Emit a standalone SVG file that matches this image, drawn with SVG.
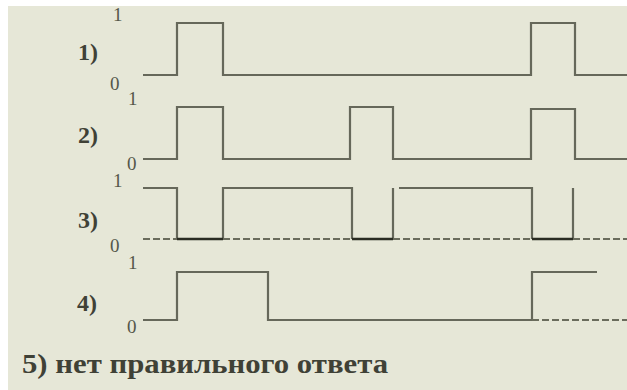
<svg xmlns="http://www.w3.org/2000/svg" width="627" height="390" viewBox="0 0 627 390">
<style>
.sig{fill:none;stroke:#66685a;stroke-width:2.2}
.dash{fill:none;stroke:#6a6c5c;stroke-width:2.2;stroke-dasharray:7 3}
.low{fill:none;stroke:#2a2c22;stroke-width:2.6}
.lbl{font-family:"Liberation Serif","Times New Roman",serif;font-weight:bold;fill:#3f4136}
.num{font-family:"Liberation Serif","Times New Roman",serif;font-size:19px;fill:#55574a}
</style>
<rect x="0" y="0" width="627" height="390" fill="#ffffff"/>
<rect x="8" y="6" width="619" height="384" fill="#e6e7d7"/>
<g id="wave1">
<path class="sig" d="M143 75H177V23H223V75H531V23H575V75H627"/>
<text class="num" x="113" y="21">1</text>
<text class="lbl" x="78" y="60" font-size="24">1)</text>
<text class="num" x="110" y="90">0</text>
</g>
<g id="wave2">
<path class="sig" d="M143 159H177V107H223V159H350V107H393V159H531V109H575V159H627"/>
<text class="num" x="128" y="105">1</text>
<text class="lbl" x="78" y="143" font-size="24">2)</text>
<text class="num" x="127" y="170">0</text>
</g>
<g id="wave3">
<path class="dash" d="M143 239H627"/>
<path class="sig" d="M143 188H177V239M223 239V188H352V239M393 239V188M399 188H532V239M573 239V188"/>
<path class="low" d="M177 239H223M352 239H393M532 239H573"/>
<text class="num" x="113" y="187">1</text>
<text class="lbl" x="78" y="228" font-size="24">3)</text>
<text class="num" x="110" y="252">0</text>
</g>
<g id="wave4">
<path class="sig" d="M143 320H177V272H268V320H532V272H597"/>
<path class="dash" d="M532 320H627"/>
<text class="num" x="128" y="269">1</text>
<text class="lbl" x="77" y="311" font-size="24">4)</text>
<text class="num" x="127" y="333">0</text>
</g>
<g id="answer5">
<text class="lbl" x="22" y="373" font-size="27" textLength="366" lengthAdjust="spacingAndGlyphs">5) нет правильного ответа</text>
</g>
</svg>
